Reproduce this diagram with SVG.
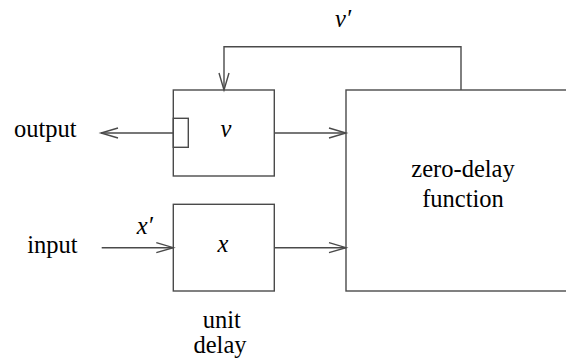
<svg xmlns="http://www.w3.org/2000/svg" width="566" height="362" viewBox="0 0 566 362">
<defs>
<marker id="a" markerUnits="userSpaceOnUse" markerWidth="24" markerHeight="14" viewBox="-20 -7 24 14" refX="0" refY="0" orient="auto">
<path d="M-17,-5 L0,0 L-17,5" fill="none" stroke="#4a4a4a" stroke-width="1.4"/>
</marker>
</defs>
<g id="connectors" fill="none" stroke="#4a4a4a" stroke-width="1.4">
<path d="M461,90 V46.7 H224 V90" marker-end="url(#a)"/>
<path d="M173.3,133 H101" marker-end="url(#a)"/>
<path d="M274.3,133 H346" marker-end="url(#a)"/>
<path d="M101.7,247.7 H173.3" marker-end="url(#a)"/>
<path d="M274.3,247.7 H346" marker-end="url(#a)"/>
</g>
<g id="v-register">
<rect x="173.3" y="90" width="101" height="86" fill="none" stroke="#4a4a4a" stroke-width="1.4"/>
<rect x="173.3" y="118.3" width="15" height="29" fill="none" stroke="#4a4a4a" stroke-width="1.4"/>
<text font-family="Liberation Serif" font-size="24.5" font-style="italic" x="226" y="137" text-anchor="middle">v</text>
</g>
<g id="x-register">
<rect x="173.3" y="204.3" width="101" height="86.7" fill="none" stroke="#4a4a4a" stroke-width="1.4"/>
<text font-family="Liberation Serif" font-size="24.5" font-style="italic" x="223" y="252" text-anchor="middle">x</text>
</g>
<g id="zero-delay-function">
<rect x="346" y="90" width="224" height="201" fill="none" stroke="#4a4a4a" stroke-width="1.4"/>
<text font-family="Liberation Serif" font-size="24.5" x="463" y="177.3" text-anchor="middle">zero-delay</text>
<text font-family="Liberation Serif" font-size="24.5" x="463" y="207.3" text-anchor="middle">function</text>
</g>
<g id="labels">
<text font-family="Liberation Serif" font-size="24.5" x="14" y="136.7">output</text>
<text font-family="Liberation Serif" font-size="24.5" x="27.3" y="253.3">input</text>
<text font-family="Liberation Serif" font-size="24.5" font-style="italic" x="335" y="26.7">v′</text>
<text font-family="Liberation Serif" font-size="24.5" font-style="italic" x="136.7" y="234">x′</text>
<text font-family="Liberation Serif" font-size="24.5" x="221.7" y="328.3" text-anchor="middle">unit</text>
<text font-family="Liberation Serif" font-size="24.5" x="220" y="353.3" text-anchor="middle">delay</text>
</g>
</svg>
